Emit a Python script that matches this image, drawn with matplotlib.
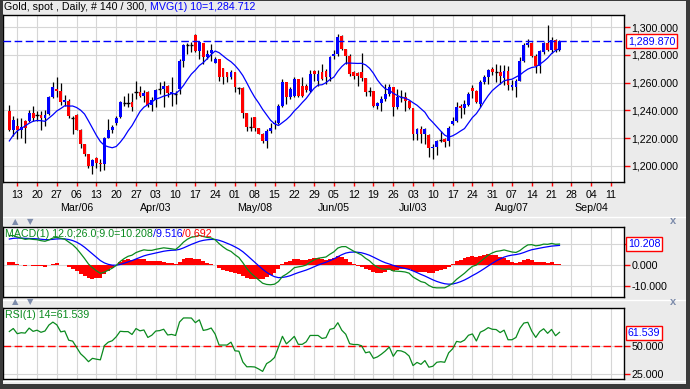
import matplotlib.pyplot as plt
import numpy as np
import pandas as pd
from matplotlib.patches import Rectangle
from matplotlib.lines import Line2D
from matplotlib.transforms import blended_transform_factory

plt.rcParams['font.family'] = ['Liberation Sans', 'DejaVu Sans']

# daily gold bars (Feb 9 .. Aug 23)
open_ = [1239.6, 1225.8, 1228.7, 1225.6, 1232.4, 1232.4, 1238.4, 1236.8, 1236.7, 1234.3,
         1237.2, 1249.3, 1255.4, 1254.2, 1245.7, 1246.9, 1234.7, 1236.7, 1225.8, 1215.4,
         1208.6, 1199.6, 1205.2, 1202.1, 1200.9, 1220.3, 1225.6, 1230.7, 1235.3, 1245.3,
         1245.3, 1245.7, 1253.1, 1253.0, 1250.6, 1253.0, 1244.0, 1247.6, 1255.5, 1255.4,
         1257.8, 1251.7, 1252.0, 1255.4, 1276.0, 1287.0, 1286.9, 1294.2, 1282.8, 1288.6,
         1278.9, 1281.3, 1274.1, 1277.2, 1270.7, 1267.5, 1263.9, 1267.5, 1256.1, 1256.1,
         1238.4, 1228.1, 1235.3, 1227.5, 1223.2, 1217.8, 1225.1, 1229.9, 1231.2, 1243.3,
         1260.2, 1249.3, 1250.6, 1262.7, 1257.8, 1257.8, 1254.2, 1268.2, 1261.5, 1267.5,
         1268.7, 1264.4, 1279.6, 1280.4, 1293.5, 1284.5, 1279.6, 1267.5, 1266.8, 1267.5,
         1263.4, 1254.2, 1254.2, 1243.3, 1245.0, 1248.1, 1251.8, 1257.1, 1242.6, 1249.3,
         1249.3, 1246.9, 1241.6, 1223.2, 1226.8, 1222.7, 1222.2, 1213.0, 1213.5, 1218.4,
         1219.0, 1217.8, 1230.4, 1232.4, 1242.8, 1241.6, 1244.0, 1255.8, 1254.0, 1244.8,
         1260.5, 1264.1, 1270.1, 1267.4, 1268.0, 1263.6, 1268.7, 1257.0, 1257.1, 1261.5,
         1275.8, 1286.9, 1288.6, 1279.6, 1272.4, 1282.1, 1288.6, 1283.3, 1291.0, 1283.3]
high = [1244.0, 1236.0, 1234.3, 1234.3, 1232.9, 1240.1, 1243.3, 1239.6, 1239.6, 1240.1,
        1250.6, 1260.2, 1263.9, 1259.5, 1251.3, 1248.1, 1236.0, 1237.2, 1226.3, 1215.4,
        1208.6, 1204.5, 1206.2, 1204.5, 1220.7, 1233.6, 1229.5, 1236.0, 1246.9, 1250.6,
        1252.2, 1252.2, 1261.0, 1257.8, 1254.7, 1254.2, 1249.3, 1255.4, 1260.2, 1261.0,
        1258.6, 1263.9, 1254.2, 1277.2, 1288.1, 1288.6, 1289.3, 1294.9, 1290.1, 1288.6,
        1283.3, 1288.1, 1278.4, 1277.2, 1270.7, 1267.5, 1269.2, 1267.5, 1257.1, 1257.1,
        1238.4, 1235.3, 1235.3, 1227.5, 1223.9, 1226.3, 1231.2, 1232.9, 1244.5, 1262.7,
        1260.2, 1256.6, 1263.9, 1262.7, 1263.9, 1259.0, 1269.2, 1269.2, 1269.2, 1273.6,
        1269.9, 1279.6, 1283.3, 1294.9, 1294.2, 1284.5, 1280.9, 1268.7, 1267.5, 1281.3,
        1263.4, 1256.6, 1254.2, 1245.7, 1250.6, 1259.0, 1259.0, 1257.1, 1255.4, 1254.7,
        1253.0, 1247.4, 1241.6, 1227.5, 1228.7, 1227.5, 1222.7, 1215.4, 1218.3, 1225.1,
        1220.3, 1228.7, 1235.3, 1245.7, 1244.5, 1247.4, 1253.0, 1258.5, 1254.5, 1261.7,
        1265.3, 1270.1, 1271.2, 1273.7, 1273.0, 1272.5, 1272.4, 1262.0, 1262.7, 1278.4,
        1288.6, 1291.8, 1289.3, 1280.9, 1283.8, 1289.3, 1301.5, 1293.0, 1291.8, 1290.6]
low = [1225.1, 1221.5, 1219.0, 1220.3, 1216.6, 1231.9, 1232.4, 1232.4, 1225.6, 1228.7,
       1236.7, 1248.9, 1249.3, 1244.0, 1243.3, 1234.8, 1222.7, 1225.6, 1213.0, 1206.9,
       1198.4, 1194.1, 1198.4, 1196.5, 1197.2, 1219.8, 1223.9, 1229.5, 1234.3, 1243.3,
       1242.1, 1239.6, 1248.1, 1249.3, 1245.7, 1242.1, 1239.6, 1242.6, 1251.8, 1242.1,
       1249.3, 1243.3, 1244.5, 1251.8, 1271.2, 1280.9, 1282.1, 1282.1, 1277.2, 1273.6,
       1277.2, 1276.0, 1274.1, 1261.5, 1259.0, 1260.2, 1262.7, 1253.0, 1251.8, 1234.8,
       1225.1, 1225.1, 1225.1, 1222.7, 1216.6, 1213.0, 1223.9, 1226.3, 1230.4, 1242.1,
       1244.5, 1248.1, 1249.3, 1249.3, 1249.3, 1253.0, 1253.0, 1261.5, 1257.8, 1261.9,
       1259.0, 1261.5, 1277.2, 1279.6, 1283.3, 1273.6, 1265.1, 1262.7, 1257.8, 1261.5,
       1250.6, 1250.6, 1242.1, 1240.8, 1239.6, 1246.9, 1250.6, 1236.0, 1240.8, 1245.7,
       1239.6, 1240.8, 1218.3, 1218.3, 1216.6, 1215.4, 1206.2, 1204.5, 1207.7, 1217.4,
       1213.5, 1214.2, 1229.5, 1231.9, 1234.8, 1237.7, 1243.3, 1249.0, 1245.3, 1242.4,
       1259.3, 1259.3, 1265.5, 1260.5, 1259.3, 1258.5, 1254.7, 1254.5, 1249.3, 1261.0,
       1274.8, 1285.7, 1278.4, 1266.8, 1266.8, 1280.9, 1282.8, 1281.3, 1282.1, 1282.8]
close = [1225.8, 1233.1, 1225.8, 1228.0, 1227.5, 1238.4, 1234.3, 1236.8, 1234.3, 1236.7,
         1249.3, 1256.6, 1253.7, 1245.7, 1247.4, 1236.0, 1234.7, 1225.8, 1215.4, 1208.6,
         1199.6, 1203.8, 1202.1, 1200.9, 1219.8, 1225.6, 1228.0, 1234.8, 1245.7, 1245.3,
         1245.3, 1242.1, 1253.1, 1250.6, 1252.2, 1244.0, 1247.6, 1254.7, 1255.5, 1257.8,
         1252.2, 1253.0, 1252.0, 1276.0, 1286.9, 1287.0, 1286.9, 1282.8, 1289.3, 1278.9,
         1280.4, 1283.3, 1277.2, 1263.9, 1263.9, 1263.9, 1267.5, 1256.6, 1256.1, 1238.4,
         1228.0, 1228.1, 1227.5, 1223.2, 1217.8, 1225.1, 1227.5, 1231.2, 1243.3, 1260.2,
         1249.3, 1255.4, 1262.7, 1250.6, 1250.6, 1254.7, 1266.3, 1266.3, 1266.3, 1262.7,
         1263.9, 1278.4, 1280.4, 1293.0, 1284.5, 1279.6, 1266.3, 1265.1, 1265.1, 1263.4,
         1253.0, 1254.2, 1243.3, 1245.0, 1248.1, 1251.8, 1256.6, 1242.6, 1249.8, 1249.3,
         1246.9, 1241.6, 1223.2, 1226.8, 1222.7, 1226.8, 1212.5, 1213.5, 1217.8, 1218.4,
         1217.4, 1227.5, 1232.4, 1242.6, 1241.6, 1244.5, 1251.8, 1253.9, 1246.1, 1260.5,
         1264.1, 1269.4, 1267.7, 1267.4, 1264.5, 1268.3, 1258.5, 1258.5, 1261.5, 1275.8,
         1286.9, 1288.6, 1279.6, 1272.4, 1282.8, 1288.6, 1283.3, 1291.0, 1283.3, 1289.87]
# closes before the visible window, only used to warm up the indicators
pre_close = [1170, 1177, 1169, 1171, 1175, 1172, 1160, 1158, 1160, 1142,
             1130, 1137, 1139, 1133, 1131, 1131, 1133, 1139, 1140, 1157,
             1152, 1159, 1165, 1180, 1173, 1184, 1186, 1196, 1196, 1196,
             1203, 1217, 1212, 1202, 1209, 1217, 1211, 1199, 1188, 1191,
             1196, 1210, 1209, 1219, 1220, 1231, 1236, 1241]

month_labels = ['Mar/06', 'Apr/03', 'May/08', 'Jun/05', 'Jul/03', 'Aug/07', 'Sep/04']
month_dates = ['2017-03-06', '2017-04-03', '2017-05-08', '2017-06-05',
               '2017-07-03', '2017-08-07', '2017-09-04']
price_ticks = [1200, 1220, 1240, 1260, 1280, 1300]

BLUE = '#0000ff'
RED = '#ff0000'
GREEN = '#0a8a1e'
GRID = '#d6d6d6'
FS = 7.7

n = len(close)
x = np.arange(n)
dates = pd.bdate_range('2017-02-09', periods=156)
mondays = np.where(dates.dayofweek == 0)[0]

full = pd.Series(pre_close + close, dtype=float)
ma10 = full.rolling(10).mean().iloc[-n:].values
ema12 = full.ewm(span=12, adjust=False).mean()
ema26 = full.ewm(span=26, adjust=False).mean()
macd = ema12 - ema26
signal = macd.ewm(span=9, adjust=False).mean()
hist = (macd - signal).iloc[-n:].values
macd = macd.iloc[-n:].values
signal = signal.iloc[-n:].values
delta = full.diff()
gain = delta.clip(lower=0).ewm(alpha=1 / 14, adjust=False).mean()
loss = (-delta.clip(upper=0)).ewm(alpha=1 / 14, adjust=False).mean()
rsi = (100 - 100 / (1 + gain / loss)).iloc[-n:].values

W, H = 690, 389


def box(x0, y0, x1, y1):
    return [x0 / W, 1 - y1 / H, (x1 - x0) / W, (y1 - y0) / H]


fig = plt.figure(figsize=(6.9, 3.89), dpi=100)
fig.patch.set_facecolor('#ebebeb')

ax = fig.add_axes(box(3, 15, 624, 182))
ax_macd = fig.add_axes(box(3, 227, 624, 297), sharex=ax)
ax_rsi = fig.add_axes(box(3, 308, 624, 379), sharex=ax)

for a in (ax, ax_macd, ax_rsi):
    a.set_facecolor('white')
    for s in a.spines.values():
        s.set_color('black')
        s.set_linewidth(1.0)
    a.yaxis.tick_right()
    a.tick_params(axis='y', color=RED, labelcolor='black', length=4, width=1,
                  labelsize=FS, pad=1.5)
    a.grid(True, color=GRID, lw=0.8, zorder=0)
    a.set_axisbelow(True)

ax.set_xlim(-1.6, 155.3)
ax.set_xticks(mondays)
ax.set_xticklabels([d.strftime('%d') for d in dates[mondays]])
ax.tick_params(axis='x', color=RED, labelcolor='black', length=3, width=1,
               labelsize=FS, pad=2.5)
for a in (ax_macd, ax_rsi):
    a.tick_params(axis='x', length=0, labelbottom=False)

# month captions under the day ticks
tr = blended_transform_factory(ax.transData, ax.transAxes)
for lab, d in zip(month_labels, month_dates):
    pos = dates.get_loc(pd.Timestamp(d))
    ax.text(pos, -0.156, lab, transform=tr, ha='center', va='center', fontsize=FS)

# candles
o, h, l, c = (np.array(v) for v in (open_, high, low, close))
up = c > o
dn = c < o
eq = c == o
ax.vlines(x, l, h, color='black', lw=0.9, zorder=2)
ax.bar(x[up], c[up] - o[up], bottom=o[up], width=0.72, color=BLUE, lw=0, zorder=3)
ax.bar(x[dn], o[dn] - c[dn], bottom=c[dn], width=0.72, color=RED, lw=0, zorder=3)
ax.hlines(c[eq], x[eq] - 0.4, x[eq] + 0.4, color='black', lw=1.0, zorder=3)
ax.plot(x, ma10, color=BLUE, lw=0.9, zorder=4)
ax.axhline(close[-1], color=BLUE, lw=1.0, dashes=(5.5, 2.5), zorder=4)
ax.set_ylim(1188.2, 1308.9)
ax.set_yticks(price_ticks)
ax.set_yticklabels([f'{v:,.3f}' for v in price_ticks])

ytr = blended_transform_factory(ax.transAxes, ax.transData)
ax.text(1.006, close[-1], f'{close[-1]:,.3f}', transform=ytr, color=BLUE, fontsize=FS,
        ha='left', va='center', clip_on=False, zorder=6,
        bbox=dict(boxstyle='square,pad=0.2', fc='white', ec=RED, lw=1))

# MACD panel
ax_macd.bar(x, hist, width=1.0, color=RED, lw=0, zorder=2)
ax_macd.plot(x, signal, color=BLUE, lw=0.9, zorder=3)
ax_macd.plot(x, macd, color=GREEN, lw=0.9, zorder=4)
ax_macd.set_ylim(-15.5, 18.4)
ax_macd.set_yticks([-10, 0, 10])
ax_macd.set_yticklabels(['-10.000', '0.000', ''])
mtr = blended_transform_factory(ax_macd.transAxes, ax_macd.transData)
ax_macd.text(1.006, 10.208, '10.208', transform=mtr, color=BLUE, fontsize=FS,
             ha='left', va='center', clip_on=False, zorder=6,
             bbox=dict(boxstyle='square,pad=0.2', fc='white', ec=RED, lw=1))
m1 = ax_macd.text(0.003, 0.97, 'MACD(1) 12.0;26.0;9.0=10.208', transform=ax_macd.transAxes,
                  color=GREEN, fontsize=FS, ha='left', va='top', zorder=6)
m2 = ax_macd.annotate('/9.516', xy=(1, 0), xycoords=m1, color=BLUE, fontsize=FS,
                      ha='left', va='bottom', zorder=6)
ax_macd.annotate('/0.692', xy=(1, 0), xycoords=m2, color=RED, fontsize=FS,
                 ha='left', va='bottom', zorder=6)

# RSI panel
ax_rsi.plot(x, rsi, color=GREEN, lw=0.9, zorder=3)
ax_rsi.axhline(50, color=RED, lw=1.0, dashes=(5.5, 2.5), zorder=2)
ax_rsi.set_ylim(20.6, 83.3)
ax_rsi.set_yticks([25, 50])
ax_rsi.set_yticklabels(['25.000', '50.000'])
rtr = blended_transform_factory(ax_rsi.transAxes, ax_rsi.transData)
ax_rsi.text(1.006, 61.539, '61.539', transform=rtr, color=BLUE, fontsize=FS,
            ha='left', va='center', clip_on=False, zorder=6,
            bbox=dict(boxstyle='square,pad=0.2', fc='white', ec=RED, lw=1))
ax_rsi.text(0.003, 0.97, 'RSI(1) 14=61.539', transform=ax_rsi.transAxes,
            color=GREEN, fontsize=FS, ha='left', va='top', zorder=6)

# title line
t1 = fig.text(4 / W, 1 - 12.5 / H, 'Gold, spot , Daily, # 140 / 300, ', fontsize=FS,
              ha='left', va='bottom')
ax.annotate('MVG(1) 10=1,284.712', xy=(1, 0), xycoords=t1, color=BLUE, fontsize=FS,
            ha='left', va='bottom', annotation_clip=False)

# panel separators with the small arrow / close glyphs
for ys in (221.5, 302.0):
    fig.text(15 / W, 1 - ys / H, '▲', color='#7d8cab', fontsize=6, ha='center',
             va='center', family='DejaVu Sans')
    fig.text(30 / W, 1 - ys / H, '▼', color='#7d8cab', fontsize=6, ha='center',
             va='center', family='DejaVu Sans')
    fig.text(673 / W, 1 - ys / H, 'x', color='#7d8cab', fontsize=8, ha='center',
             va='center', fontweight='bold')
for ys in (216.5, 299.5, 381.0):
    fig.add_artist(Line2D([3 / W, 687 / W], [1 - ys / H] * 2, color='white', lw=1.0,
                          transform=fig.transFigure))

# dark window frame
frame = '#3a3a3a'
for rect in ((0, 0, 3, H), (686, 0, 690, H), (0, 0, W, 1), (0, 384, W, H)):
    x0, y0, x1, y1 = rect
    fig.add_artist(Rectangle((x0 / W, 1 - y1 / H), (x1 - x0) / W, (y1 - y0) / H,
                             transform=fig.transFigure, color=frame, lw=0, zorder=10))

fig.savefig('out.png', dpi=100, facecolor=fig.get_facecolor())
